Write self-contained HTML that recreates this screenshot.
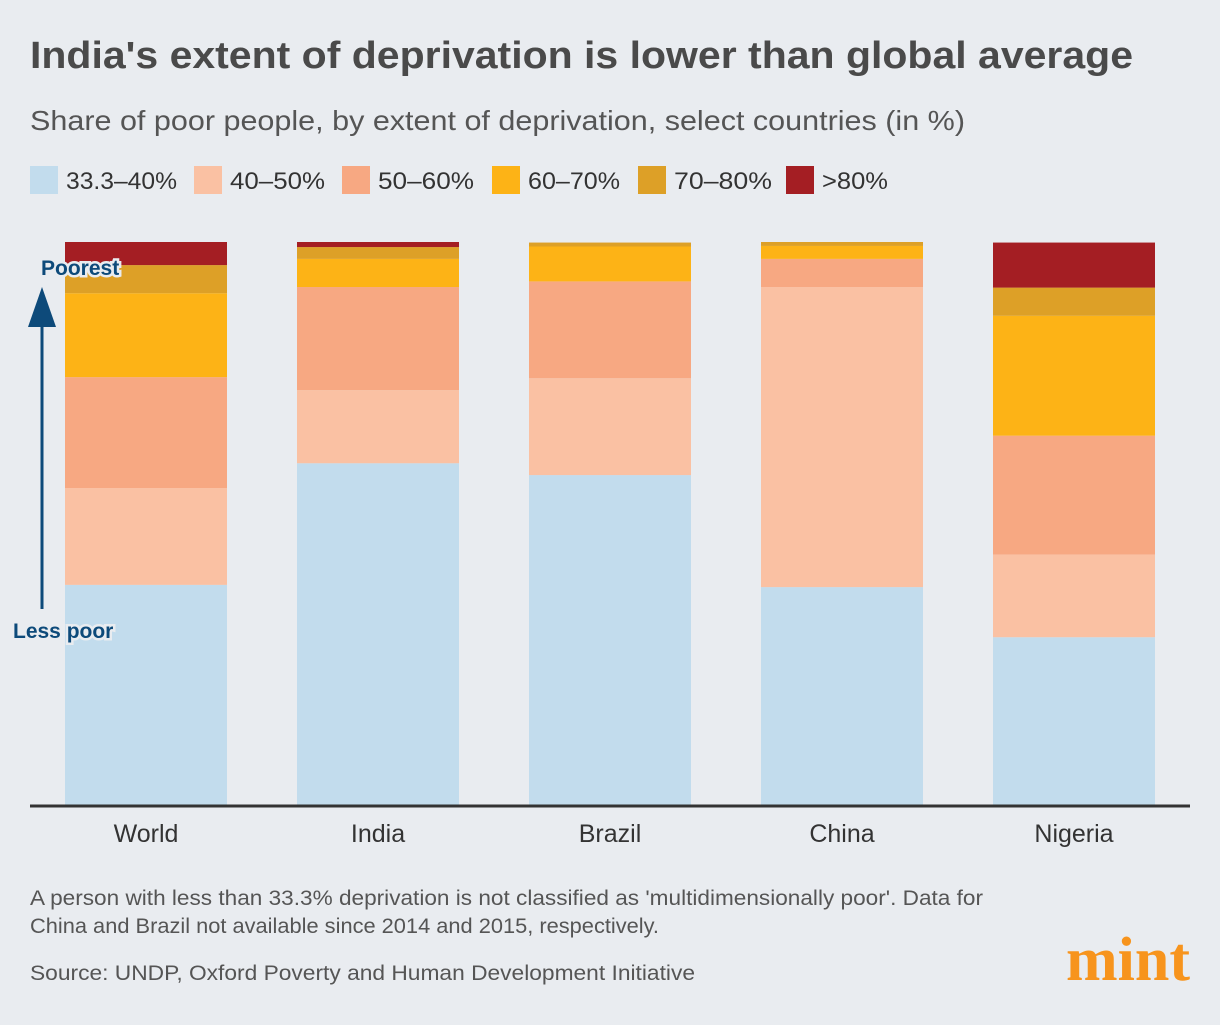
<!DOCTYPE html>
<html><head><meta charset="utf-8"><style>
body{margin:0;background:#e9ecf0;width:1220px;height:1020px;overflow:hidden;font-family:"Liberation Sans",sans-serif;}
</style></head><body>
<svg width="1220" height="1020" xmlns="http://www.w3.org/2000/svg">
<rect width="1220" height="1020" fill="#e9ecf0"/>
<text x="30" y="68" font-size="38" font-weight="bold" fill="#4a4a4a" textLength="1103" lengthAdjust="spacingAndGlyphs">India's extent of deprivation is lower than global average</text>
<text x="30" y="130" font-size="28" fill="#555" textLength="935" lengthAdjust="spacingAndGlyphs">Share of poor people, by extent of deprivation, select countries (in %)</text>
<g id="legend"></g>
<g id="bars"></g>
<line x1="30" y1="806" x2="1190" y2="806" stroke="#333" stroke-width="3"/>
<g id="xlabels"></g>
<line x1="42" y1="320" x2="42" y2="609" stroke="#0d4a7a" stroke-width="3"/>
<polygon points="42,287 28,327 56,327" fill="#0d4a7a"/>
<text x="41" y="275" font-size="21" font-weight="bold" fill="#0d4a7a" stroke="#e9ecf0" stroke-width="5" paint-order="stroke">Poorest</text>
<text x="13" y="638" font-size="21" font-weight="bold" fill="#0d4a7a" stroke="#e9ecf0" stroke-width="5" paint-order="stroke">Less poor</text>
<text x="30" y="905" font-size="21" fill="#555" textLength="953" lengthAdjust="spacingAndGlyphs">A person with less than 33.3% deprivation is not classified as 'multidimensionally poor'. Data for</text>
<text x="30" y="933" font-size="21" fill="#555" textLength="629" lengthAdjust="spacingAndGlyphs">China and Brazil not available since 2014 and 2015, respectively.</text>
<text x="30" y="980" font-size="21" fill="#555" textLength="665" lengthAdjust="spacingAndGlyphs">Source: UNDP, Oxford Poverty and Human Development Initiative</text>
<text x="1190" y="980" text-anchor="end" font-size="62" font-weight="bold" font-family="Liberation Serif, serif" fill="#f7941d">mint</text>
</svg>
<script>
const categories=["World","India","Brazil","China","Nigeria"];
const seriesNames=["33.3–40%","40–50%","50–60%","60–70%","70–80%",">80%"];
const s1=[39.1,60.7,58.6,38.7,29.8];
const s2=[17.2,13.0,17.2,53.3,14.7];
const s3=[19.7,18.3,17.2,5.0,21.1];
const s4=[14.9,5.0,6.2,2.3,21.3];
const s5=[5.0,2.1,0.7,0.7,5.0];
const s6=[4.1,0.9,0,0,8.0];
const colors=["#c2dced","#fac1a3","#f7a882","#fdb316","#dda027","#a41e23"];
const NS="http://www.w3.org/2000/svg";
const series=[s1,s2,s3,s4,s5,s6];
const y0=805,y100=242;
function yScale(v){return y0-(y0-y100)*v/100;}
function xScale(i){return 65+i*232;}
const bw=162;
const bars=document.getElementById('bars');
categories.forEach((c,i)=>{
  let cum=0;
  series.forEach((s,k)=>{
    const v=s[i];
    if(v<=0)return;
    const r=document.createElementNS(NS,'rect');
    r.setAttribute('x',xScale(i));
    r.setAttribute('width',bw);
    r.setAttribute('y',yScale(cum+v));
    r.setAttribute('height',yScale(cum)-yScale(cum+v));
    r.setAttribute('fill',colors[k]);
    
    
    bars.appendChild(r);
    cum+=v;
  });
  const t=document.createElementNS(NS,'text');
  t.setAttribute('x',xScale(i)+bw/2);
  t.setAttribute('y',842);
  t.setAttribute('text-anchor','middle');
  t.setAttribute('font-size','25');
  t.setAttribute('fill','#333');
  t.textContent=c;
  
  
  document.getElementById('xlabels').appendChild(t);
});
const lg=document.getElementById('legend');
const lx=[30,194,342,492,638,786];
const lw=[111,95,96,92,98,66];
seriesNames.forEach((n,k)=>{
  const r=document.createElementNS(NS,'rect');
  r.setAttribute('x',lx[k]);r.setAttribute('y',166);r.setAttribute('width',28);r.setAttribute('height',28);
  r.setAttribute('fill',colors[k]);
  
  
  lg.appendChild(r);
  const t=document.createElementNS(NS,'text');
  t.setAttribute('x',lx[k]+36);t.setAttribute('y',189);
  t.setAttribute('font-size','24');t.setAttribute('fill','#333');
  t.setAttribute('textLength',lw[k]);
  t.setAttribute('lengthAdjust','spacingAndGlyphs');
  t.textContent=n;
  
  
  lg.appendChild(t);
});
</script>
</body></html>
